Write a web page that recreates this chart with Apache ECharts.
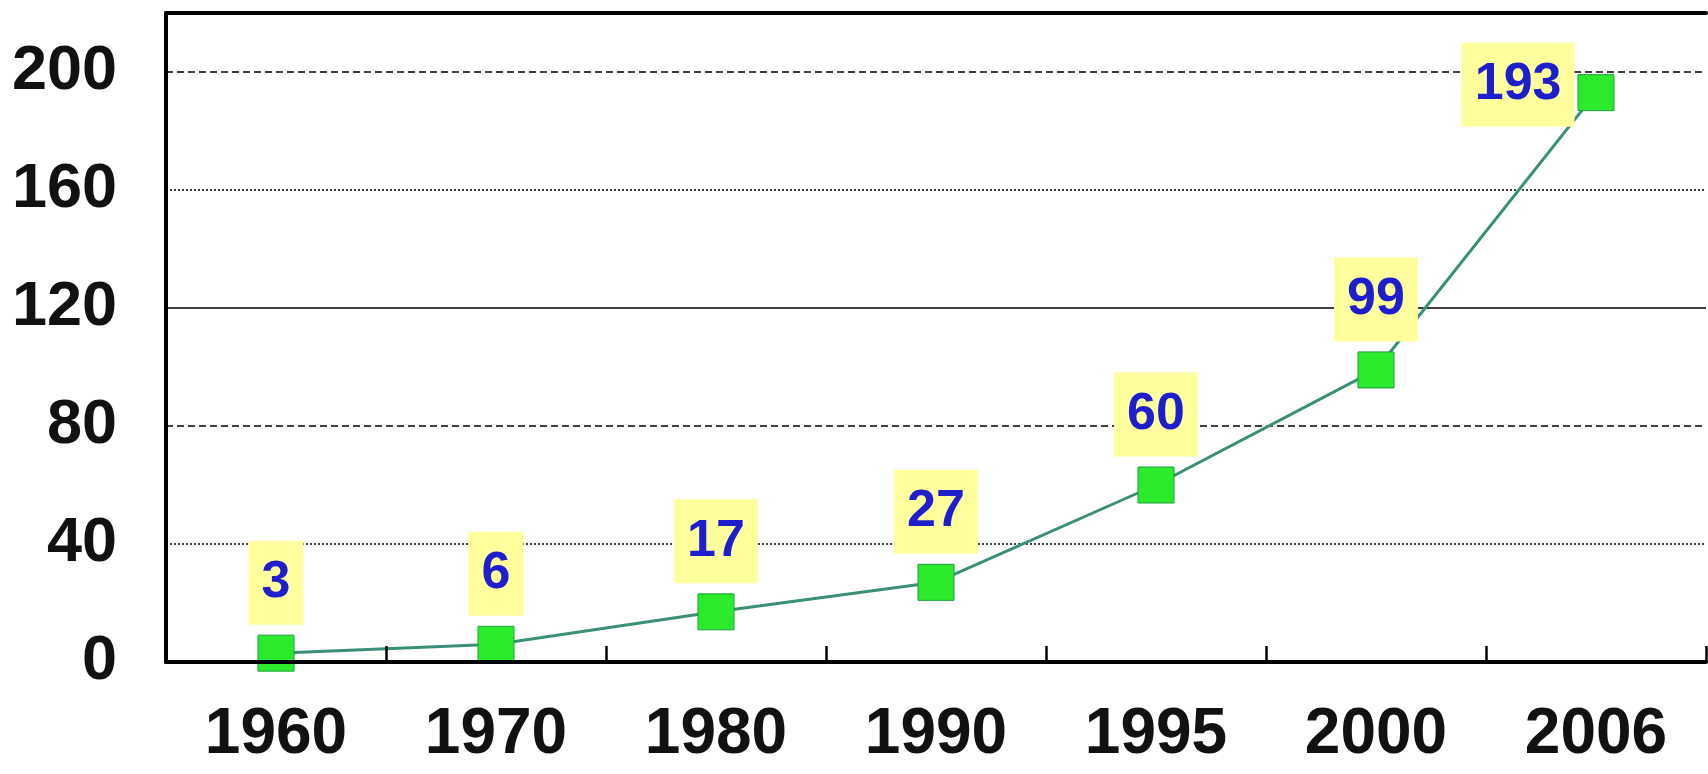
<!DOCTYPE html>
<html>
<head>
<meta charset="utf-8">
<script src="https://cdn.jsdelivr.net/npm/echarts@6/dist/echarts.min.js"></script>
<style>
  html, body { margin: 0; padding: 0; background: #fff; }
  #chart { width: 1708px; height: 774px; }
</style>
</head>
<body>
<div id="chart"></div>
<script>
var years = ['1960', '1970', '1980', '1990', '1995', '2000', '2006'];
var values = [3, 6, 17, 27, 60, 99, 193];
var yTicks = [0, 40, 80, 120, 160, 200];
var dashedLines = [80, 200];
var dottedLines = [40, 160];
var solidLines = [120];

var font = "'Liberation Sans', Arial, sans-serif";

function gridLine(v, type) {
  return { yAxis: v, lineStyle: { type: type, color: '#000', width: 1.5 } };
}

var marks = []
  .concat(dashedLines.map(function (v) { return gridLine(v, [7, 4]); }))
  .concat(dottedLines.map(function (v) { return gridLine(v, [2, 2]); }))
  .concat(solidLines.map(function (v) { return gridLine(v, 'solid'); }));

var seriesData = values.map(function (v, i) {
  var d = { value: v };
  // last point has its label beside it, not above
  if (i === values.length - 1) {
    d.label = { position: 'left', distance: 3, offset: [0, -8] };
  }
  return d;
});

var chart = echarts.init(document.getElementById('chart'));
chart.setOption({
  animation: false,
  grid: { left: 166, top: 13, right: 2, bottom: 112 },
  xAxis: [{
    type: 'category',
    data: years,
    boundaryGap: true,
    z: 5,
    axisLine: { lineStyle: { color: '#000', width: 4 } },
    axisTick: { show: true, inside: true, interval: 0, length: 16, lineStyle: { color: '#000', width: 2.5 } },
    axisLabel: { margin: 41, fontSize: 64, fontWeight: 'bold', color: '#111', fontFamily: font }
  }, {
    type: 'category',
    position: 'top',
    data: years,
    axisLine: { lineStyle: { color: '#000', width: 4 } },
    axisTick: { show: false },
    axisLabel: { show: false }
  }],
  yAxis: {
    type: 'value',
    min: 0,
    max: 220,
    interval: 40,
    axisLine: { show: true, lineStyle: { color: '#000', width: 4 } },
    axisTick: { show: false },
    splitLine: { show: false },
    axisLabel: {
      margin: 49, fontSize: 63, fontWeight: 'bold', color: '#111', fontFamily: font,
      showMaxLabel: false,
      formatter: function (v) { return yTicks.indexOf(v) >= 0 ? v : ''; }
    }
  },
  series: [{
    type: 'line',
    data: seriesData,
    symbol: 'rect',
    symbolSize: 36,
    lineStyle: { color: '#3A8F78', width: 3 },
    itemStyle: { color: '#2CEB2C', borderColor: '#1E9E3E', borderWidth: 1 },
    label: {
      show: true,
      position: 'top',
      distance: 10,
      fontSize: 52,
      lineHeight: 52,
      fontWeight: 'bold',
      fontFamily: font,
      color: '#1E1ECC',
      backgroundColor: '#FFFF9E',
      padding: [16, 13, 16, 13]
    },
    markLine: {
      silent: true,
      symbol: ['none', 'none'],
      label: { show: false },
      z: 1,
      data: marks
    }
  }]
});
</script>
</body>
</html>
